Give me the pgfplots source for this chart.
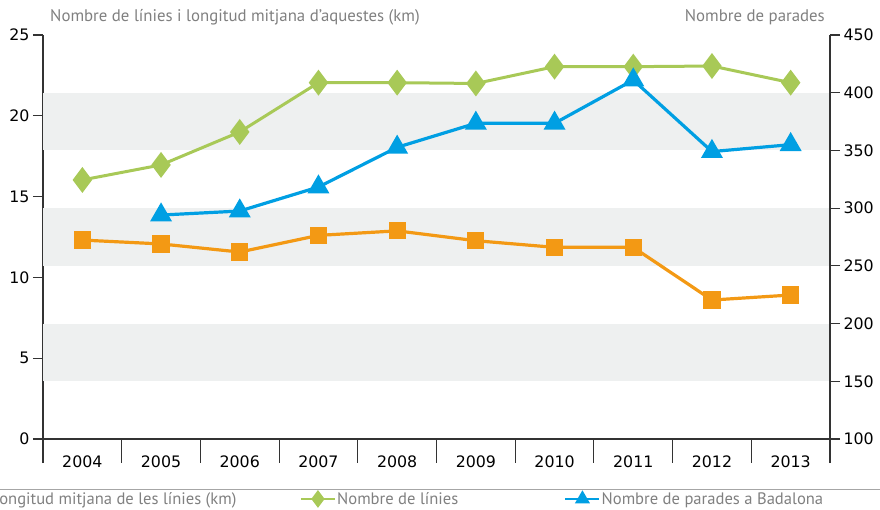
\documentclass[border=0pt]{standalone}
\usepackage{fontspec}
\setmainfont{PT Sans}
\newfontfamily\tickfont{DejaVu Sans}
\usepackage{pgfplots}
\pgfplotsset{compat=1.18}
\usetikzlibrary{calc}

\definecolor{cgreen}{HTML}{A8C957}
\definecolor{cblue}{HTML}{009FE3}
\definecolor{corange}{HTML}{F39914}
\definecolor{cband}{HTML}{EEF0F0}
\definecolor{caxis}{HTML}{333333}
\definecolor{ctext}{HTML}{808080}

\pgfplotsset{
  common/.style={
    scale only axis, width=787pt, height=428pt,
    xmin=-0.5, xmax=9.5,
    axis line style={-, color=caxis, line width=1.1pt},
    tick style={color=caxis, line width=1.1pt},
    tick align=outside, major tick length=10pt,
    tick label style={font=\tickfont\fontsize{15.8}{18}\selectfont, black},
    /pgf/number format/assume math mode=true,
    clip=false,
  },
  sorange/.style={corange, line width=3.2pt, mark=square*, mark size=7pt, mark options={fill=corange}},
  sgreen/.style={cgreen, line width=3pt, mark=diamond*, mark size=10.5pt, mark options={fill=cgreen}},
  sblue/.style={cblue, line width=3.2pt, mark=triangle*, mark size=9.5pt, mark options={fill=cblue}},
}

\begin{document}
\begin{tikzpicture}
\begin{axis}[
  common,
  ymin=-1.485, ymax=25,
  axis x line*=middle, axis y line*=left,
  xtick={0,...,9},
  xticklabels={2004,2005,2006,2007,2008,2009,2010,2011,2012,2013},
  major x tick style={draw=none},
  xticklabel style={yshift=-3pt},
  ytick={0,5,...,25},
]
% grey bands (150-200, 250-300, 350-400 on the right scale)
\fill[cband] (axis cs:-0.5,17.857) rectangle (axis cs:9.5,21.429);
\fill[cband] (axis cs:-0.5,10.714) rectangle (axis cs:9.5,14.286);
\fill[cband] (axis cs:-0.5,3.571) rectangle (axis cs:9.5,7.143);
% category separators
\pgfplotsinvokeforeach{0.5,1.5,2.5,3.5,4.5,5.5,6.5,7.5,8.5,9.5}{
  \draw[caxis, line width=1.1pt] (axis cs:#1,0) -- (axis cs:#1,-1.485);
}

\addplot[sorange] coordinates {
  (0,12.31) (1,12.07) (2,11.57) (3,12.60) (4,12.88)
  (5,12.27) (6,11.86) (7,11.86) (8,8.60) (9,8.91)
};
\addplot[sgreen] coordinates {
  (0,16.03) (1,16.96) (2,19.00) (3,22.05) (4,22.05)
  (5,22.00) (6,23.04) (7,23.04) (8,23.08) (9,22.05)
};
\coordinate (O) at (rel axis cs:0,0);
\end{axis}

\begin{axis}[
  common,
  ymin=79.21, ymax=450,
  axis x line=none, axis y line*=right,
  ytick={100,150,...,450},
  legend columns=3,
  legend cell align=left,
  legend style={draw=none, fill=none, at={(axis description cs:0,0)}, anchor=north west,
    xshift=-89pt, yshift=-28pt, inner sep=0pt, column sep=0pt,
    nodes={inner sep=1pt, font=\fontsize{16.6}{19}\selectfont, text=ctext}},
  legend image code/.code={
    \draw[#1, line width=2.5pt, every mark/.append style={scale=0.65}, mark repeat=2, mark phase=2]
      plot coordinates {(0pt,0pt) (17pt,0pt) (34pt,0pt)};
  },
]
\addlegendimage{sorange}
\addlegendentry{\makebox[307pt][l]{Longitud mitjana de les línies (km)}}
\addlegendimage{sgreen}
\addlegendentry{\makebox[226pt][l]{Nombre de línies}}
\addplot[sblue] coordinates {
  (1,294) (2,297.5) (3,318.3) (4,352.7) (5,373.5)
  (6,373.5) (7,411) (8,349) (9,355)
};
\addlegendentry{Nombre de parades a Badalona}
\end{axis}

\node[anchor=west, inner sep=0pt, text=ctext, font=\fontsize{16.8}{19}\selectfont] at ($(O)+(7pt,446pt)$)
  {Nombre de línies i longitud mitjana d’aquestes (km)};
\node[anchor=east, inner sep=0pt, text=ctext, font=\fontsize{16.8}{19}\selectfont] at ($(O)+(782pt,446pt)$)
  {Nombre de parades};
\draw[ctext!70, line width=1pt] ($(O)+(-43pt,-26pt)$) -- ($(O)+(837pt,-26pt)$);

\pgfresetboundingbox
\useasboundingbox ($(O)+(-43pt,-46pt)$) rectangle ($(O)+(837pt,463pt)$);
\end{tikzpicture}
\end{document}
